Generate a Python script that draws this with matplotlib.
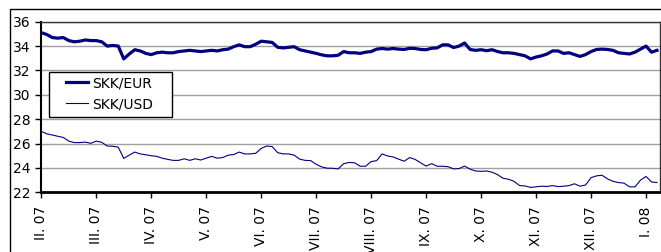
import matplotlib
matplotlib.use("Agg")
import matplotlib.pyplot as plt
from matplotlib.patches import Rectangle

month_labels = ["II. 07", "III. 07", "IV. 07", "V. 07", "VI. 07", "VII. 07",
                "VIII. 07", "IX. 07", "X. 07", "XI. 07", "XII. 07", "I. 08"]

skk_eur = [35.1, 34.95, 34.7, 34.65, 34.7, 34.45, 34.35, 34.4, 34.5, 34.45,
           34.45, 34.35, 34.0, 34.05, 34.0, 32.95, 33.35, 33.7, 33.6, 33.4,
           33.3, 33.45, 33.5, 33.45, 33.45, 33.55, 33.6, 33.65, 33.6, 33.55,
           33.6, 33.65, 33.6, 33.7, 33.75, 33.95, 34.1, 33.95, 33.95, 34.15,
           34.4, 34.35, 34.3, 33.9, 33.85, 33.9, 33.95, 33.7, 33.6, 33.5,
           33.4, 33.28, 33.2, 33.2, 33.25, 33.55, 33.45, 33.45, 33.4, 33.5,
           33.55, 33.75, 33.8, 33.75, 33.8, 33.75, 33.72, 33.82, 33.8, 33.72,
           33.7, 33.82, 33.85, 34.1, 34.1, 33.88, 34.0, 34.25, 33.72, 33.65,
           33.7, 33.62, 33.7, 33.55, 33.45, 33.45, 33.4, 33.3, 33.2, 32.95,
           33.1, 33.2, 33.35, 33.6, 33.6, 33.4, 33.45, 33.3, 33.15, 33.3,
           33.55, 33.72, 33.75, 33.72, 33.65, 33.45, 33.4, 33.35, 33.5, 33.75,
           34.0, 33.5, 33.65]

skk_usd = [27.0, 26.8, 26.7, 26.6, 26.5, 26.2, 26.08, 26.08, 26.12, 26.02,
           26.2, 26.1, 25.8, 25.78, 25.7, 24.78, 25.05, 25.3, 25.15, 25.08,
           25.0, 24.95, 24.8, 24.7, 24.62, 24.62, 24.75, 24.62, 24.75, 24.65,
           24.8, 24.95, 24.8, 24.85, 25.05, 25.1, 25.3, 25.15, 25.15, 25.2,
           25.6, 25.8, 25.75, 25.25, 25.15, 25.15, 25.05, 24.72, 24.62, 24.6,
           24.3, 24.08, 23.98, 23.97, 23.92, 24.35, 24.45, 24.42, 24.14, 24.14,
           24.52, 24.6, 25.15, 24.98, 24.9, 24.72, 24.55, 24.85, 24.7, 24.42,
           24.15, 24.35, 24.14, 24.14, 24.1, 23.92, 23.95, 24.15, 23.9, 23.75,
           23.72, 23.75, 23.65, 23.45, 23.15, 23.07, 22.9, 22.55, 22.52, 22.4,
           22.45, 22.5, 22.48, 22.55, 22.47, 22.5, 22.55, 22.7, 22.5, 22.6,
           23.2, 23.35, 23.4, 23.1, 22.9, 22.8, 22.75, 22.45, 22.45, 23.0,
           23.3, 22.85, 22.8]

points_per_month = 10
y_ticks = [22, 24, 26, 28, 30, 32, 34, 36]

W, H = 661, 252
fig = plt.figure(figsize=(W / 100, H / 100), dpi=100)
left, right, top, bottom = 41.3, 660.3, 21.7, 192.3
ax = fig.add_axes([left / W, 1 - bottom / H, (right - left) / W, (bottom - top) / H])

x = list(range(len(skk_eur)))
navy = "#000080"
ax.plot(x, skk_eur, color=navy, lw=2.3, label="SKK/EUR", solid_joinstyle="round")
ax.plot(x, skk_usd, color=navy, lw=0.8, label="SKK/USD")

ax.set_xlim(0, 112.6)
ax.set_ylim(22, 36)
ax.set_yticks(y_ticks)
ax.set_yticklabels([str(v) for v in y_ticks], fontsize=10)
ax.set_xticks([i * points_per_month for i in range(len(month_labels))])
ax.set_xticklabels(month_labels, fontsize=10, rotation=90, ha="center", va="top")
ax.tick_params(axis="y", direction="out", length=4, width=1, pad=4)
ax.tick_params(axis="x", direction="out", length=4, width=1, pad=6)

ax.grid(axis="y", color="#a0a0a0", lw=1.0)
ax.set_axisbelow(True)
ax.spines["left"].set_linewidth(1.5)
ax.spines["bottom"].set_linewidth(2.0)
for s in ("top", "right"):
    ax.spines[s].set_color("#333333")
    ax.spines[s].set_linewidth(1.0)

# legend box (drawn separately to match the reference's wider frame)
ax.add_patch(Rectangle((0.0124, 0.4414), 0.1987, 0.2638, transform=ax.transAxes,
                       facecolor="white", edgecolor="black", lw=1.0, zorder=4))
leg = ax.legend(loc="upper left", bbox_to_anchor=(0.040, 0.680), borderaxespad=0,
                frameon=False, fontsize=10, handlelength=1.55, handletextpad=0.3,
                borderpad=0, labelspacing=0.5)
leg.set_zorder(5)

fig.patches.append(Rectangle((9.5 / W, -0.2), 1.2, 1 - 9.5 / H + 0.2,
                             transform=fig.transFigure, fill=False,
                             edgecolor="black", lw=1.0, clip_on=False))

fig.savefig("out.png", dpi=100)
